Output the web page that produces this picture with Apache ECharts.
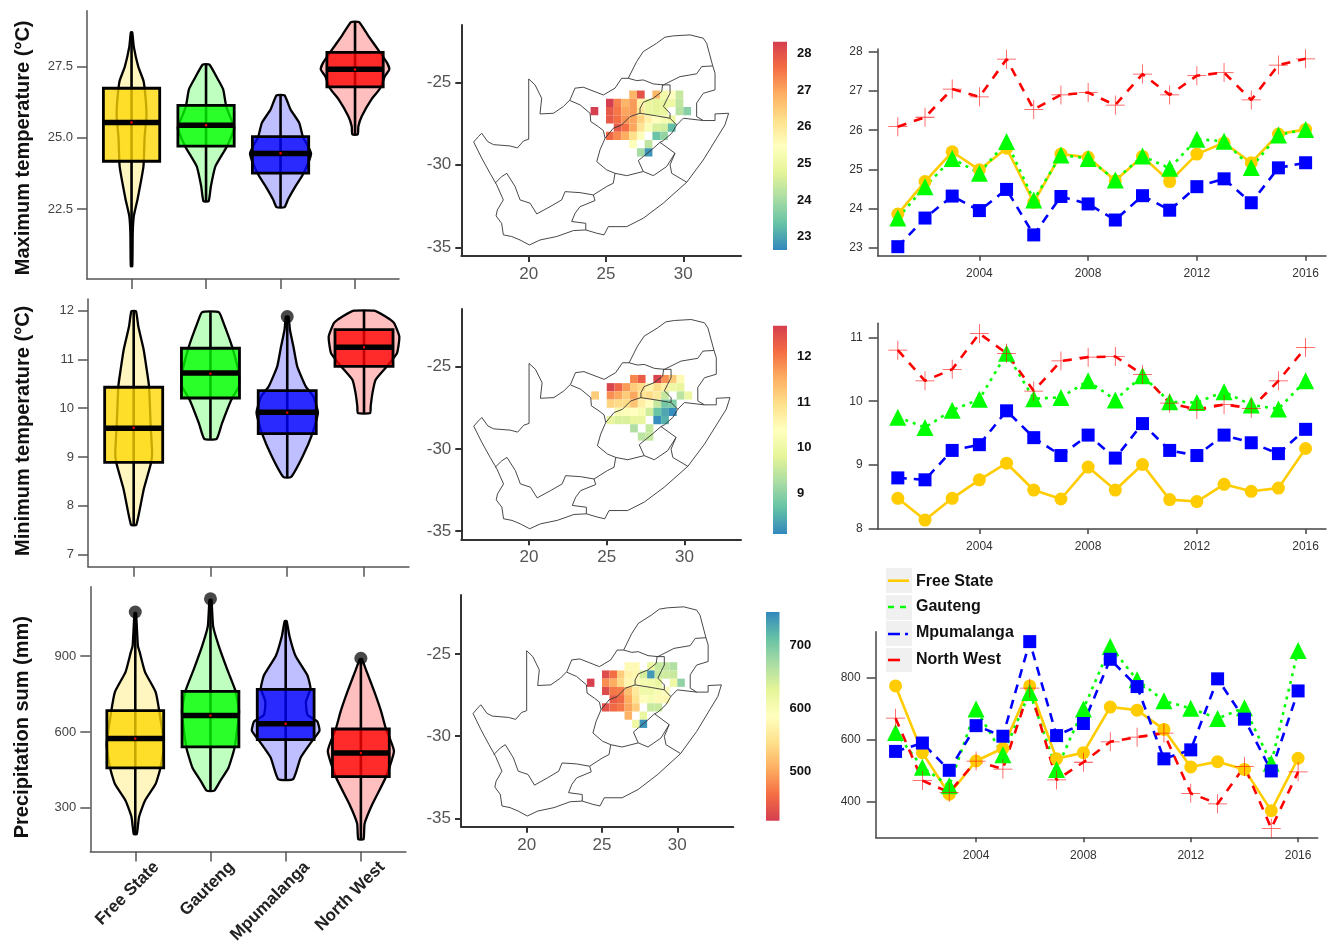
<!DOCTYPE html>
<html><head><meta charset="utf-8">
<style>html,body{margin:0;padding:0;background:#fff}#c{width:1329px;height:946px}</style>
<script src="https://cdn.jsdelivr.net/npm/echarts@6/dist/echarts.min.js"></script>
</head><body><div id="c"></div>
<script>
const provinces = ['Free State','Gauteng','Mpumalanga','North West'];
const years = [2001,2002,2003,2004,2005,2006,2007,2008,2009,2010,2011,2012,2013,2014,2015,2016];

// violin outlines: [value, half width in category units]
const tmaxViolin = [
 [[28.7,.01],[28.2,.03],[27.5,.09],[27.0,.16],[26.35,.19],[25.76,.2],[25,.175],[24,.16],[22.84,.08],[22.25,.03],[21.67,.016],[20.5,.01]],
 [[27.57,.045],[27.05,.16],[26.7,.23],[26.11,.27],[25.76,.32],[25.35,.38],[24.7,.28],[24,.125],[23.3,.065],[22.78,.035]],
 [[26.49,.054],[25.99,.135],[25.53,.25],[25.04,.3],[24.45,.41],[23.76,.31],[23.3,.2],[22.84,.1],[22.57,.054]],
 [[29.06,.054],[28.57,.18],[27.98,.34],[27.63,.43],[27.4,.46],[27.16,.4],[26.75,.34],[26.35,.22],[25.76,.09],[25.41,.045],[25.12,.036]]
];
const tminViolin = [
 [[11.99,.03],[11.68,.06],[11.2,.13],[10.79,.17],[10.45,.2],[9.69,.22],[9.08,.24],[8.87,.225],[8.33,.13],[7.61,.035]],
 [[11.97,.11],[11.75,.17],[11.27,.28],[10.72,.37],[10.45,.37],[10.17,.27],[9.69,.15],[9.37,.08]],
 [[11.88,.017],[11.61,.035],[11.27,.08],[10.86,.13],[10.45,.24],[10.24,.34],[9.91,.4],[9.49,.33],[9.01,.2],[8.59,.05]],
 [[12,.13],[11.88,.28],[11.75,.39],[11.47,.46],[11.13,.43],[10.86,.3],[10.58,.15],[10.31,.11],[10.04,.087],[9.9,.08]]
];
const precViolin = [
 [[1071,.01],[941,.035],[915,.06],[837,.13],[759,.27],[681,.32],[551,.38],[453,.33],[394,.27],[329,.13],[264,.05],[196,.02]],
 [[1123,.013],[1019,.035],[941,.11],[850,.22],[765,.33],[681,.38],[538,.32],[459,.24],[407,.13],[368,.05]],
 [[1039,.013],[980,.05],[902,.13],[824,.29],[772,.33],[720,.27],[668,.29],[642,.42],[605,.45],[564,.35],[499,.2],[414,.1]],
 [[889,.013],[837,.08],[759,.18],[681,.27],[616,.33],[525,.44],[420,.33],[316,.155],[238,.05],[176,.035]]
];
// box stats: [q1, median, q3, mean]
const tmaxBox = [[24.18,25.54,26.74,25.54],[24.71,25.44,26.14,25.44],[23.76,24.45,25.04,24.46],[26.79,27.41,28.0,27.4]];
const tminBox = [[8.89,9.59,10.43,9.6],[10.21,10.72,11.23,10.71],[9.48,9.92,10.36,9.91],[10.86,11.25,11.61,11.25]];
const precBox = [[458,574,685,574],[541,665,761,665],[570,633,769,633],[424,517,612,517]];
const tmaxOutliers = [null,null,null,null];
const tminOutliers = [null,null,11.88,null];
const precOutliers = [1075,1127,null,892];

// South Africa outlines [lon, lat]
const saBorder = [[20,-24.8],[20,-28.45],[19.66,-28.56],[19.27,-28.98],[18.79,-28.86],[17.72,-28.78],[17.35,-28.6],[16.96,-28.09],[16.75,-28.29],[16.44,-28.62],[16.96,-29.6],[17.5,-30.52],[17.93,-31.22],[18.36,-32.13],[17.97,-32.74],[17.89,-33.1],[18.25,-33.55],[18.36,-34.25],[18.9,-34.35],[19.44,-34.56],[20.04,-34.86],[20.73,-34.56],[21.81,-34.35],[22.89,-33.99],[23.69,-33.95],[24.4,-34.15],[24.87,-34.25],[25.15,-33.75],[26.34,-33.75],[27.41,-33.24],[28.7,-32.33],[30.22,-31.06],[31.29,-29.71],[32.16,-28.39],[32.69,-27.59],[32.93,-26.88],[32.05,-26.92],[32.05,-27.32],[31.29,-27.32],[30.86,-27.08],[30.86,-26.26],[31.29,-25.67],[32.05,-25.46],[32.05,-24.45],[31.9,-24.0],[31.51,-22.64],[31.29,-22.33],[30.43,-22.13],[29.35,-22.19],[28.81,-22.27],[28.27,-22.64],[27.41,-23.14],[26.98,-23.75],[26.44,-24.76],[26.01,-24.76],[25.58,-25.36],[24.83,-25.77],[23.53,-25.3],[22.99,-25.36],[22.67,-26.07],[22.24,-26.47],[21.6,-26.88],[20.73,-26.92],[20.84,-25.97],[20.41,-25.16],[20,-24.8]];
const limpopoSouth = [[26.44,-24.76],[26.98,-24.9],[27.41,-24.86],[28.06,-25.1],[28.71,-25.16],[29.78,-24.66],[30.86,-24.49],[31.19,-24.05],[31.9,-24.01]];
const vaalRiver = [[24.94,-28.39],[25.47,-27.79],[26.01,-27.59],[26.55,-27.08],[27.2,-26.88],[28.28,-27.04],[29.14,-27.18],[29.57,-27.59]];
const freeStateEast = [[29.57,-27.59],[29.25,-28.09],[28.71,-28.54],[28.49,-28.64]];
const lesotho = [[28.49,-28.64],[29.46,-29.3],[28.92,-30.11],[28.06,-30.66],[27.41,-30.41],[27.09,-29.75],[27.41,-29.5],[28.06,-29],[28.49,-28.64]];
const freeStateSouth = [[27.41,-30.41],[26.34,-30.66],[25.58,-30.52],[25.04,-30.31],[24.4,-29.81],[24.61,-29.1],[24.94,-28.39]];
const northWestWest = [[22.67,-26.11],[23.32,-26.37],[23.97,-26.88],[24.01,-27.38],[24.5,-27.69],[24.83,-27.93],[24.94,-28.39]];
const gautengEdge = [[27.2,-26.88],[27.2,-26.58],[27.41,-26.21],[28.06,-25.97],[28.6,-25.57],[28.66,-25.16],[29.14,-25.16],[29.14,-25.67],[28.92,-26.07],[28.71,-26.47],[29.14,-26.88],[29.14,-27.18]];
const mpumalangaSouth = [[29.57,-27.59],[30,-27.18],[31.29,-27.32]];
const kznWest = [[29.46,-29.3],[29.14,-30.01],[29.25,-30.52],[30.22,-31.06]];
const easternCapeWest = [[25.58,-30.52],[25.47,-31.12],[25.04,-31.32],[24.18,-31.83],[24.29,-32.17],[23.32,-32.54],[23,-32.94],[22.78,-33.44],[23.69,-33.55],[23.69,-33.95]];
const westernCapeNorth = [[24.18,-31.83],[23.32,-31.69],[22.35,-31.63],[22.13,-32.13],[21.38,-32.54],[20.52,-32.98],[20.09,-32.33],[19.44,-32.13],[19.12,-31.32],[18.58,-30.52],[18.25,-30.72],[17.82,-31.12]];
const mapPaths = [saBorder,limpopoSouth,vaalRiver,freeStateEast,lesotho,freeStateSouth,northWestWest,gautengEdge,mpumalangaSouth,kznWest,easternCapeWest,westernCapeNorth];

// 0.5 degree cells: [lon, lat, value]
const tmaxCells = [
 [26.75,-25.75,26.8],[27.25,-25.75,28.0],[28.25,-25.75,26.8],[28.75,-25.75,25.1],[29.25,-25.75,25.5],[29.75,-25.75,24.4],
 [25.25,-26.25,28.3],[25.75,-26.25,27.4],[26.25,-26.25,26.8],[26.75,-26.25,27.1],[27.25,-26.25,25.8],[27.75,-26.25,24.9],[28.25,-26.25,24.8],[28.75,-26.25,24.9],[29.25,-26.25,25.0],[29.75,-26.25,24.3],
 [24.25,-26.75,28.3],[25.25,-26.75,27.9],[25.75,-26.75,27.5],[26.25,-26.75,27.0],[26.75,-26.75,27.1],[27.25,-26.75,26.0],[27.75,-26.75,24.9],[28.25,-26.75,24.8],[28.75,-26.75,24.9],[29.75,-26.75,24.2],[30.25,-26.75,23.7],
 [25.25,-27.25,27.9],[25.75,-27.25,27.6],[26.25,-27.25,27.2],[26.75,-27.25,27.0],[27.25,-27.25,26.4],[27.75,-27.25,25.8],[28.25,-27.25,25.5],[28.75,-27.25,25.2],[29.25,-27.25,25.0],
 [25.75,-27.75,27.9],[26.25,-27.75,27.6],[26.75,-27.75,27.0],[27.25,-27.75,26.1],[27.75,-27.75,25.3],[28.25,-27.75,24.6],[28.75,-27.75,24.5],[29.25,-27.75,23.3],
 [25.25,-28.25,27.7],[25.75,-28.25,27.3],[26.25,-28.25,26.9],[26.75,-28.25,26.2],[27.25,-28.25,25.4],[28.25,-28.25,23.4],[28.75,-28.25,23.8],
 [26.75,-28.75,25.4],[27.75,-28.75,24.3],[27.25,-29.25,24.0],[27.75,-29.25,22.8]
];
const tminCells = [
 [26.75,-25.75,11.9],[27.25,-25.75,12.3],[28.25,-25.75,12.6],[28.75,-25.75,11.8],[29.25,-25.75,11.2],[29.75,-25.75,10.5],
 [25.25,-26.25,12.6],[25.75,-26.25,12.2],[26.25,-26.25,11.7],[26.75,-26.25,11.2],[27.25,-26.25,11.0],[27.75,-26.25,10.6],[28.25,-26.25,11.0],[28.75,-26.25,10.7],[29.25,-26.25,10.0],[29.75,-26.25,9.9],
 [24.25,-26.75,11.2],[25.25,-26.75,11.8],[25.75,-26.75,11.6],[26.25,-26.75,11.2],[26.75,-26.75,11.6],[27.25,-26.75,10.9],[27.75,-26.75,11.0],[28.25,-26.75,10.8],[28.75,-26.75,9.5],[29.75,-26.75,9.4],[30.25,-26.75,10.0],
 [25.25,-27.25,11.1],[25.75,-27.25,11.0],[26.25,-27.25,11.0],[26.75,-27.25,11.3],[27.25,-27.25,10.7],[27.75,-27.25,10.4],[28.25,-27.25,9.5],[28.75,-27.25,8.8],[29.25,-27.25,8.9],
 [25.75,-27.75,10.2],[26.25,-27.75,10.3],[26.75,-27.75,10.4],[27.25,-27.75,10.2],[27.75,-27.75,9.6],[28.25,-27.75,8.7],[28.75,-27.75,8.4],[29.25,-27.75,8.15],
 [25.25,-28.25,9.9],[25.75,-28.25,9.7],[26.25,-28.25,9.7],[26.75,-28.25,9.9],[27.25,-28.25,9.9],[28.25,-28.25,8.15],[28.75,-28.25,8.5],
 [26.75,-28.75,9.3],[27.75,-28.75,9.5],[27.25,-29.25,9.4],[27.75,-29.25,9.5]
];
const precCells = [
 [26.75,-25.75,580],[27.25,-25.75,580],[28.25,-25.75,615],[28.75,-25.75,650],[29.25,-25.75,655],[29.75,-25.75,665],
 [25.25,-26.25,435],[25.75,-26.25,465],[26.25,-26.25,530],[26.75,-26.25,570],[27.25,-26.25,575],[27.75,-26.25,640],[28.25,-26.25,740],[28.75,-26.25,650],[29.25,-26.25,645],[29.75,-26.25,650],
 [24.25,-26.75,425],[25.25,-26.75,485],[25.75,-26.75,505],[26.25,-26.75,540],[26.75,-26.75,575],[27.25,-26.75,580],[27.75,-26.75,605],[28.25,-26.75,610],[28.75,-26.75,620],[29.75,-26.75,615],[30.25,-26.75,685],
 [25.25,-27.25,435],[25.75,-27.25,470],[26.25,-27.25,475],[26.75,-27.25,520],[27.25,-27.25,560],[27.75,-27.25,610],[28.25,-27.25,612],[28.75,-27.25,600],[29.25,-27.25,590],
 [25.75,-27.75,450],[26.25,-27.75,460],[26.75,-27.75,505],[27.25,-27.75,550],[27.75,-27.75,585],[28.25,-27.75,600],[28.75,-27.75,580],[29.25,-27.75,578],
 [25.25,-28.25,440],[25.75,-28.25,460],[26.25,-28.25,470],[26.75,-28.25,500],[27.25,-28.25,530],[28.25,-28.25,650],[28.75,-28.25,650],
 [26.75,-28.75,510],[27.75,-28.75,620],[27.25,-29.25,615],[27.75,-29.25,745]
];
const tmaxScale = [22.64,28.32], tminScale = [8.1,12.68], precScale = [423,752];
const tmaxScaleTicks = [23,24,25,26,27,28], tminScaleTicks = [9,10,11,12], precScaleTicks = [500,600,700];

// annual series
const tmaxFS = [23.86,24.69,25.45,24.99,25.54,24.16,25.39,25.31,24.71,25.33,24.69,25.39,25.68,25.17,25.9,26.02];
const tmaxGP = [23.76,24.56,25.28,24.9,25.71,24.22,25.37,25.28,24.73,25.34,25.03,25.77,25.72,25.05,25.88,26.02];
const tmaxMP = [23.03,23.76,24.32,23.95,24.49,23.33,24.31,24.12,23.71,24.33,23.96,24.56,24.76,24.15,25.04,25.17];
const tmaxNW = [26.09,26.33,27.05,26.85,27.81,26.53,26.9,26.96,26.64,27.43,26.9,27.39,27.47,26.77,27.66,27.82];
const tminFS = [8.48,8.14,8.48,8.77,9.03,8.61,8.47,8.97,8.61,9.01,8.46,8.43,8.7,8.59,8.64,9.26];
const tminGP = [9.75,9.59,9.86,10.03,10.75,10.04,10.06,10.32,10.02,10.4,9.99,9.98,10.15,9.94,9.88,10.32];
const tminMP = [8.8,8.77,9.23,9.32,9.85,9.43,9.15,9.47,9.11,9.65,9.23,9.15,9.47,9.35,9.18,9.56];
const tminNW = [10.8,10.32,10.5,11.06,10.75,10.16,10.63,10.69,10.7,10.42,9.97,9.87,9.95,9.89,10.32,10.84];
const precFS = [774,559,425,532,573,774,539,559,706,696,634,513,530,505,372,541];
const precGP = [624,512,452,700,552,753,505,700,901,794,726,702,669,704,525,888];
const precMP = [563,590,502,646,612,917,614,653,860,772,539,568,797,667,500,758];
const precNW = [670,469,431,532,506,767,471,528,594,609,622,428,394,514,315,497];

const FONT = '"Liberation Sans",Arial,sans-serif';
const vColors = ['255,215,0','0,255,0','0,0,255','255,0,0'];
const spectral = [[50,136,189],[102,194,165],[171,221,164],[230,245,152],[255,255,191],[254,224,139],[253,174,97],[244,109,67],[213,62,79]];
const spectralRev = spectral.slice().reverse();
function specColor(t,pal){
  t=Math.max(0,Math.min(1,t))*(pal.length-1);
  const i=Math.min(Math.floor(t),pal.length-2),f=t-i;
  const c=pal[i].map((a,k)=>Math.round(a+(pal[i+1][k]-a)*f));
  return 'rgb('+c.join(',')+')';
}
function box(l,r,t,b){return {left:l,top:t,width:r-l,height:b-t,containLabel:false};}
const grids=[], xAxes=[], yAxes=[], series=[];
function addGrid(g){grids.push(g);return grids.length-1;}
function axis(gi,min,max,vals,o){
  o=o||{};
  return {type:'value',gridIndex:gi,min,max,scale:true,splitLine:{show:false},
    axisLine:{show:o.line!==false,onZero:false,lineStyle:{color:o.lc||'#555',width:o.lw||1.5}},
    axisTick:{show:o.tick!==false,customValues:vals,length:o.tl||10,lineStyle:{color:o.lc||'#555',width:o.lw||1.5}},
    axisLabel:{show:o.label!==false,customValues:vals,formatter:o.fmt||(v=>String(v)),fontFamily:FONT,fontSize:o.fs||13,color:o.color||'#444',fontWeight:o.fw||'normal',margin:o.margin||14,
      rotate:o.rotate||0,align:o.align,verticalAlign:o.va,padding:o.padding},
    name:o.name,nameLocation:'middle',nameGap:o.nameGap,nameRotate:90,
    nameTextStyle:{fontFamily:FONT,fontSize:20,fontWeight:'bold',color:'#111',padding:o.namePad},position:o.position};
}
function violinPanel(g,xr,yr,yticks,fmt,name,nameGap,namePad,viol,boxes,outs,bottom){
  const gi=addGrid(g);
  xAxes.push(axis(gi,xr[0],xr[1],[1,2,3,4],bottom?{label:true,fmt:v=>provinces[Math.round(v)-1],fs:17,fw:'bold',color:'#222',rotate:45,align:'right',va:'middle',margin:34,padding:[0,-30,0,0]}:{label:false}));
  yAxes.push(axis(gi,yr[0],yr[1],yticks,{fmt,name,nameGap,namePad}));
  const ai=xAxes.length-1;
  series.push({type:'custom',xAxisIndex:ai,yAxisIndex:ai,clip:false,animation:false,silent:true,
    data:boxes.map((b,i)=>[i+1,b[1]]),encode:{x:0,y:1},
    renderItem(p,api){
      const i=p.dataIndex,x=i+1,v=viol[i],b=boxes[i],c=vColors[i],hw=.378,ch=[];
      const pts=[];
      v.forEach(d=>pts.push(api.coord([x-d[1],d[0]])));
      v.slice().reverse().forEach(d=>pts.push(api.coord([x+d[1],d[0]])));
      if(outs[i]!=null){const o=api.coord([x,outs[i]]);ch.push({type:'circle',shape:{cx:o[0],cy:o[1],r:6.5},style:{fill:'rgba(40,40,40,0.85)'}});}
      ch.push({type:'polygon',shape:{points:pts,smooth:.15},style:{fill:'rgba('+c+',0.25)',stroke:'#000',lineWidth:2.3,lineJoin:'round'}});
      const top=api.coord([x,v[0][0]]),bot=api.coord([x,v[v.length-1][0]]);
      ch.push({type:'line',shape:{x1:top[0],y1:top[1],x2:bot[0],y2:bot[1]},style:{stroke:'#000',lineWidth:2.6}});
      const a=api.coord([x-hw,b[2]]),d=api.coord([x+hw,b[0]]);
      ch.push({type:'rect',shape:{x:a[0],y:a[1],width:d[0]-a[0],height:d[1]-a[1]},style:{fill:'rgba('+c+',0.78)',stroke:'#000',lineWidth:2.8}});
      const m1=api.coord([x-hw,b[1]]),m2=api.coord([x+hw,b[1]]);
      ch.push({type:'line',shape:{x1:m1[0],y1:m1[1],x2:m2[0],y2:m2[1]},style:{stroke:'#000',lineWidth:5.5}});
      const mn=api.coord([x,b[3]]);
      ch.push({type:'circle',shape:{cx:mn[0],cy:mn[1],r:1.2},style:{fill:'#f00'}});
      return {type:'group',children:ch};
    }});
}
function mapPanel(g,xr,yr,cells,scale,pal){
  const gi=addGrid(g);
  const o={lc:'#333',lw:2,tl:6,fs:17,color:'#555',margin:10};
  xAxes.push(axis(gi,xr[0],xr[1],[20,25,30],o));
  yAxes.push(axis(gi,yr[0],yr[1],[-25,-30,-35],o));
  const ai=xAxes.length-1;
  series.push({type:'custom',xAxisIndex:ai,yAxisIndex:ai,animation:false,silent:true,clip:false,
    data:cells,encode:{x:0,y:1},
    renderItem(p,api){
      const lo=api.value(0),la=api.value(1),v=api.value(2);
      const a=api.coord([lo-.25,la+.25]),b=api.coord([lo+.25,la-.25]);
      return {type:'rect',shape:{x:a[0],y:a[1],width:b[0]-a[0],height:b[1]-a[1]},
        style:{fill:specColor((v-scale[0])/(scale[1]-scale[0]),pal)}};
    }});
  series.push({type:'custom',xAxisIndex:ai,yAxisIndex:ai,animation:false,silent:true,clip:false,z:5,
    data:mapPaths.map((q,i)=>[q[0][0],q[0][1],i]),encode:{x:0,y:1},
    renderItem(p,api){
      const q=mapPaths[p.dataIndex].map(d=>api.coord(d));
      return {type:'polyline',shape:{points:q},style:{fill:'none',stroke:'#333',lineWidth:.9}};
    }});
}
function scalePanel(g,range,ticks,pal){
  const gi=addGrid(g);
  xAxes.push({type:'value',gridIndex:gi,min:0,max:1,show:false});
  yAxes.push(axis(gi,range[0],range[1],ticks,{line:false,tick:false,fs:13,fw:'bold',color:'#111',margin:10,position:'right'}));
  const ai=xAxes.length-1;
  series.push({type:'custom',xAxisIndex:ai,yAxisIndex:ai,animation:false,silent:true,
    data:[[0,range[0],1,range[1]]],encode:{x:[0,2],y:[1,3]},
    renderItem(p,api){
      const a=api.coord([0,range[1]]),b=api.coord([1,range[0]]);
      return {type:'rect',shape:{x:a[0],y:a[1],width:b[0]-a[0],height:b[1]-a[1]},
        style:{fill:new echarts.graphic.LinearGradient(0,1,0,0,pal.map((c,i)=>({offset:i/(pal.length-1),color:'rgb('+c.join(',')+')'})))}};
    }});
}
const crossPath='path://M9.6 0H10.4V9.6H20V10.4H10.4V20H9.6V10.4H0V9.6H9.6Z';
const lineStyles=[
 {color:'#FFCC00',type:'solid',symbol:'circle',size:13},
 {color:'#00FF00',type:[3,5],symbol:'triangle',size:17},
 {color:'#0000FF',type:[9,7],symbol:'rect',size:13},
 {color:'#FF0000',type:[9,8],symbol:crossPath,size:19}
];
function linePanel(g,xr,yr,yticks,datas){
  const gi=addGrid(g);
  const ox={lc:'#444',lw:1.5,tl:5,fs:12,color:'#333',margin:12};
  const oy={lc:'#444',lw:1.5,tl:9,fs:12,color:'#333',margin:15};
  xAxes.push(axis(gi,xr[0],xr[1],[2004,2008,2012,2016],ox));
  yAxes.push(axis(gi,yr[0],yr[1],yticks,oy));
  const ai=xAxes.length-1;
  datas.forEach((d,i)=>{const s=lineStyles[i];
    series.push({type:'line',name:provinces[i],xAxisIndex:ai,yAxisIndex:ai,animation:false,silent:true,clip:false,
      data:years.map((y,k)=>[y,d[k]]),symbol:s.symbol,symbolSize:s.size,showSymbol:true,showAllSymbol:true,
      lineStyle:{color:s.color,width:2.6,type:s.type},itemStyle:{color:s.color,opacity:i===3?.75:1}});
  });
}
violinPanel(box(87,399,10.7,279),[.402,4.59],[20.05,29.46],[22.5,25,27.5],v=>v.toFixed(1),'Maximum temperature (°C)',54,[0,6,0,0],tmaxViolin,tmaxBox,tmaxOutliers,false);
violinPanel(box(88,409,299,566.7),[.405,4.586],[6.75,12.24],[7,8,9,10,11,12],v=>String(v),'Minimum temperature (°C)',55,[0,0,0,4],tminViolin,tminBox,tminOutliers,false);
violinPanel(box(90.3,406,586.7,855),[.402,4.6],[127,1175],[300,600,900],v=>String(v),'Precipitation sum (mm)',58,[0,16,0,0],precViolin,precBox,precOutliers,true);

mapPanel(box(461.3,741,25,256),[15.64,33.73],[-35.53,-21.53],tmaxCells,tmaxScale,spectral);
mapPanel(box(461.3,741,309,539.3),[15.64,33.64],[-35.5,-21.49],tminCells,tminScale,spectral);
mapPanel(box(461,733.3,595,826.7),[15.64,33.72],[-35.51,-21.41],precCells,precScale,spectralRev);

scalePanel(box(773,787,41.7,250),tmaxScale,tmaxScaleTicks,spectral);
scalePanel(box(773,787,325.7,534),tminScale,tminScaleTicks,spectral);
scalePanel(box(766,779.5,612,820.7),precScale,precScaleTicks,spectralRev);

linePanel(box(877.7,1326,49,255.7),[2000.26,2016.75],[22.8,28.07],[23,24,25,26,27,28],[tmaxFS,tmaxGP,tmaxMP,tmaxNW]);
linePanel(box(877.7,1326,323.3,529),[2000.26,2016.75],[8,11.22],[8,9,10,11],[tminFS,tminGP,tminMP,tminNW]);
linePanel(box(875.7,1317.7,631.7,837.3),[2000.26,2016.73],[286,949],[400,600,800],[precFS,precGP,precMP,precNW]);

// legend of the annual series
const legY=[568,595,621,648], legH=[25,25,25,24], legLineY=[580.7,607,634,660], legEnd=[909,908,908,900], legTextY=[574,599,625,652];
const legDash=[null,[6,6],[12,5,4,5],[12,99]];
const graphicEls=[];
provinces.forEach((n,i)=>{
  graphicEls.push({type:'rect',left:886,top:legY[i],shape:{width:26,height:legH[i]},style:{fill:'#F0F0F0'},z:20});
  graphicEls.push({type:'line',shape:{x1:888,y1:legLineY[i],x2:legEnd[i],y2:legLineY[i]},style:{stroke:lineStyles[i].color,lineWidth:2.6,lineDash:legDash[i]},z:21});
  graphicEls.push({type:'text',left:916,top:legTextY[i],style:{text:n,font:'bold 16px '+FONT,fill:'#111'},z:21});
});
const chart=echarts.init(document.getElementById('c'),null,{renderer:'canvas'});
chart.setOption({animation:false,backgroundColor:'#fff',grid:grids,xAxis:xAxes,yAxis:yAxes,series,graphic:graphicEls});
</script></body></html>
